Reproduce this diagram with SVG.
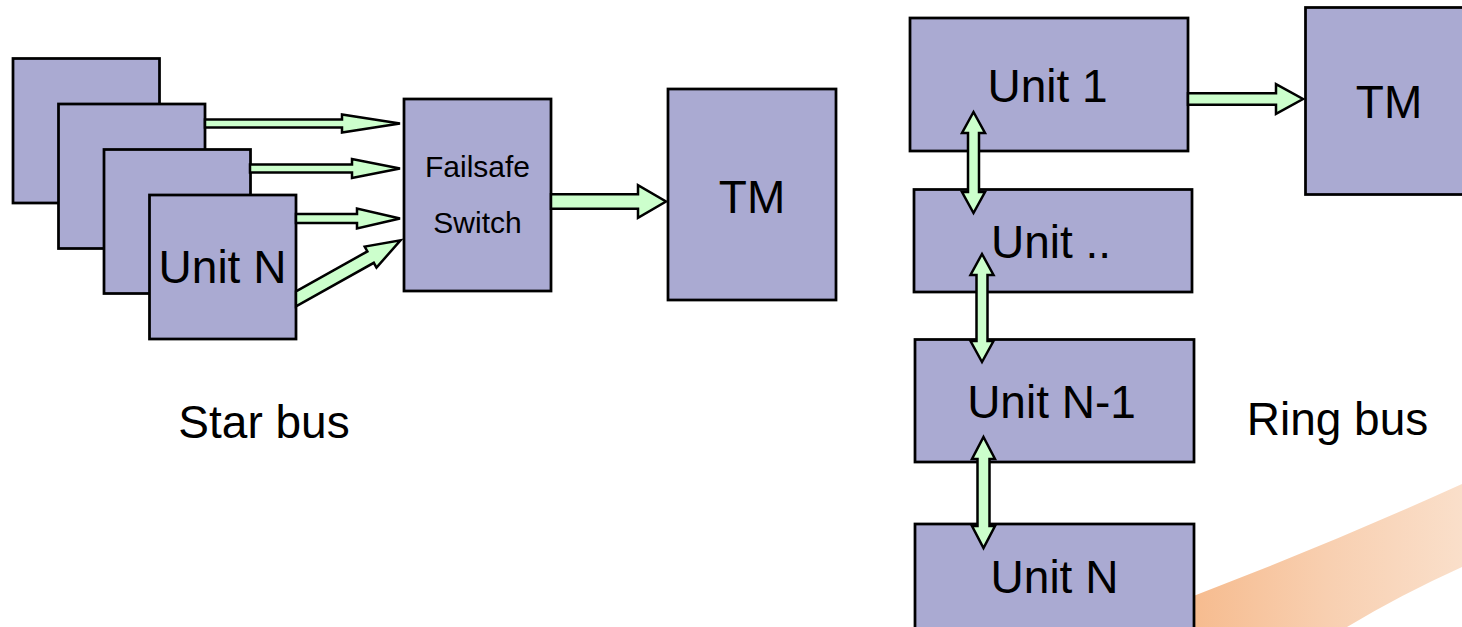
<svg xmlns="http://www.w3.org/2000/svg" width="1462" height="627" viewBox="0 0 1462 627">
  <style>
    .box { fill: #aaaad2; stroke: #000; stroke-width: 2.75; }
    .arrow { fill: #ccffcc; stroke: #000; stroke-width: 2.5; stroke-linejoin: miter; }
    .lbl { font-family: "Liberation Sans", Arial, sans-serif; font-size: 46px; fill: #000; }
    .small { font-size: 30px; }
    .mid { text-anchor: middle; }
  </style>
  <defs>
    <linearGradient id="swooshFill" x1="1190" y1="0" x2="1462" y2="0" gradientUnits="userSpaceOnUse">
      <stop offset="0" stop-color="#f6bb8e"/>
      <stop offset="0.5" stop-color="#f8cfb0"/>
      <stop offset="1" stop-color="#fadfca"/>
    </linearGradient>
  </defs>
  <rect width="1462" height="627" fill="#ffffff"/>

  <!-- decorative band, lower right -->
  <path id="swoosh" d="M 1110 627 Q 1290 562 1462 484 L 1462 567 Q 1400 595 1347 627 Z" fill="url(#swooshFill)"/>

  <!-- star bus -->
  <g id="star-unit-1"><rect class="box" x="13" y="58.5" width="146.5" height="144.5"/></g>
  <g id="star-unit-2"><rect class="box" x="58.5" y="104" width="146.5" height="144.5"/></g>
  <g id="star-unit-3"><rect class="box" x="104" y="149.5" width="146.5" height="144"/></g>
  <g id="star-unit-n">
    <rect class="box" x="149.5" y="195" width="146.5" height="144"/>
    <text class="lbl mid" x="222.5" y="283">Unit N</text>
  </g>
  <g id="failsafe-switch">
    <rect class="box" x="404" y="99" width="147" height="192"/>
    <text class="lbl small mid" x="477.5" y="177">Failsafe</text>
    <text class="lbl small mid" x="477.5" y="233">Switch</text>
  </g>
  <g id="star-tm">
    <rect class="box" x="668" y="89" width="168" height="211"/>
    <text class="lbl mid" x="752" y="213">TM</text>
  </g>
  <g id="star-caption">
    <text class="lbl mid" x="264" y="438">Star bus</text>
  </g>

  <!-- ring bus -->
  <g id="ring-unit-1">
    <rect class="box" x="910" y="18" width="278" height="133"/>
    <text class="lbl mid" x="1047.5" y="102">Unit 1</text>
  </g>
  <g id="ring-unit-mid">
    <rect class="box" x="914" y="189.5" width="278" height="102.5"/>
    <text class="lbl" x="991" y="258">Unit ..</text>
  </g>
  <g id="ring-unit-n-1">
    <rect class="box" x="915" y="339.5" width="279" height="122.5"/>
    <text class="lbl mid" x="1051.5" y="418">Unit N-1</text>
  </g>
  <g id="ring-unit-n">
    <rect class="box" x="915" y="524" width="279" height="110"/>
    <text class="lbl mid" x="1054.5" y="593">Unit N</text>
  </g>
  <g id="ring-tm">
    <rect class="box" x="1305.5" y="7.5" width="200" height="187"/>
    <text class="lbl mid" x="1389" y="118">TM</text>
  </g>
  <g id="ring-caption">
    <text class="lbl mid" x="1337.5" y="435">Ring bus</text>
  </g>

  <!-- connectors -->
  <g id="connectors">
    <polygon class="arrow" points="205,119.5 342,119.5 342,114.5 400,123.5 342,132.5 342,127.5 205,127.5"/>
    <polygon class="arrow" points="250,164.5 352,164.5 352,159 400,168.5 352,178 352,172.5 250,172.5"/>
    <polygon class="arrow" points="296,214 357,214 357,208.5 400,218.5 357,228.5 357,223 296,223"/>
    <polygon class="arrow" points="296,291.3 367.4,251.4 364.7,246.6 400.5,240.3 376.5,267.6 373.8,262.8 296,306.3"/>
    <polygon class="arrow" points="551,194.2 638,194.2 638,185.2 666,201.5 638,217.8 638,208.8 551,208.8"/>
    <polygon class="arrow" points="1188,93.2 1276,93.2 1276,84.2 1303,99 1276,113.8 1276,104.8 1188,104.8"/>
    <polygon class="arrow" points="973.5,112 985,133 979,133 979,192 985,192 973.5,213 962,192 968,192 968,133 962,133"/>
    <polygon class="arrow" points="982,254 993.5,275 987.5,275 987.5,341 993.5,341 982,362 970.5,341 976.5,341 976.5,275 970.5,275"/>
    <polygon class="arrow" points="983.5,437 995,459 989.5,459 989.5,526 995,526 983.5,548 972,526 977.5,526 977.5,459 972,459"/>
  </g>
</svg>
